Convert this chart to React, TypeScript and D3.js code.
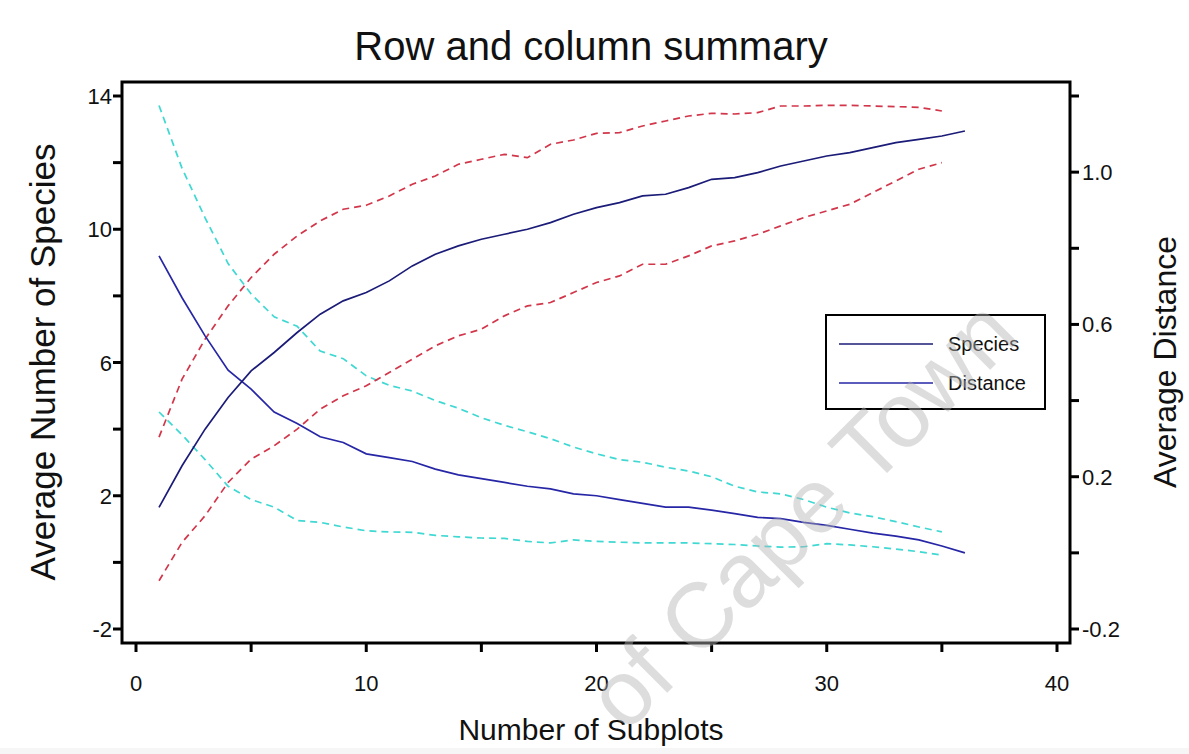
import React from "react";
import * as d3 from "d3";

const subplots = d3.range(1, 37);
const speciesMean = [1.65, 2.9, 4.0, 4.95, 5.75, 6.3, 6.9, 7.45, 7.85, 8.1, 8.45, 8.9, 9.25, 9.5, 9.7, 9.85, 10.0, 10.2, 10.45, 10.65, 10.8, 11.0, 11.05, 11.25, 11.5, 11.55, 11.7, 11.9, 12.05, 12.2, 12.3, 12.45, 12.6, 12.7, 12.8, 12.95];
const speciesUpper = [3.76, 5.5, 6.7, 7.7, 8.55, 9.25, 9.8, 10.25, 10.6, 10.72, 11.0, 11.35, 11.6, 11.95, 12.1, 12.25, 12.15, 12.55, 12.68, 12.88, 12.9, 13.1, 13.25, 13.4, 13.48, 13.46, 13.5, 13.7, 13.7, 13.72, 13.72, 13.7, 13.68, 13.66, 13.55];
const speciesLower = [-0.55, 0.6, 1.4, 2.4, 3.1, 3.5, 4.0, 4.6, 5.0, 5.3, 5.7, 6.1, 6.5, 6.8, 7.0, 7.4, 7.7, 7.8, 8.1, 8.4, 8.6, 8.95, 8.95, 9.2, 9.5, 9.65, 9.85, 10.1, 10.35, 10.55, 10.75, 11.1, 11.45, 11.8, 12.0];
const distanceMean = [0.78, 0.67, 0.57, 0.48, 0.43, 0.37, 0.34, 0.305, 0.29, 0.26, 0.25, 0.24, 0.22, 0.205, 0.195, 0.185, 0.175, 0.168, 0.155, 0.15, 0.14, 0.13, 0.12, 0.12, 0.112, 0.103, 0.093, 0.09, 0.08, 0.072, 0.062, 0.052, 0.044, 0.034, 0.018, 0.0];
const distanceUpper = [1.175, 1.01, 0.88, 0.76, 0.68, 0.62, 0.595, 0.53, 0.51, 0.465, 0.44, 0.425, 0.4, 0.38, 0.355, 0.335, 0.318, 0.3, 0.278, 0.26, 0.245, 0.238, 0.225, 0.215, 0.2, 0.175, 0.16, 0.155, 0.14, 0.12, 0.105, 0.095, 0.082, 0.068, 0.055];
const distanceLower = [0.37, 0.31, 0.245, 0.175, 0.14, 0.12, 0.085, 0.08, 0.068, 0.058, 0.055, 0.054, 0.046, 0.042, 0.039, 0.038, 0.03, 0.026, 0.034, 0.03, 0.028, 0.026, 0.026, 0.026, 0.024, 0.022, 0.018, 0.015, 0.016, 0.024, 0.021, 0.016, 0.01, 0.003, -0.006];

const xTicks = [0, 5, 10, 15, 20, 25, 30, 35, 40];
const xLabels = [0, 10, 20, 30, 40];
const yLeftTicks = [-2, 0, 2, 4, 6, 8, 10, 12, 14];
const yLeftLabels = [-2, 2, 6, 10, 14];
const yRightTicks = [-0.2, 0, 0.2, 0.4, 0.6, 0.8, 1.0, 1.2];
const yRightLabels = [-0.2, 0.2, 0.6, 1.0];

const title = "Row and column summary";
const xTitle = "Number of Subplots";
const yLeftTitle = "Average Number of Species";
const yRightTitle = "Average Distance";
const legendNames = ["Species", "Distance"];
const watermark = "of Cape Town";

const FONT = "'Liberation Sans', Arial, Helvetica, sans-serif";

export default function App() {
  const W = 1189, H = 754;
  const frame = { l: 122, r: 1070, t: 82, b: 643 };
  const x = d3.scaleLinear().domain([0, 40]).range([136, 1057]);
  const yL = d3.scaleLinear().domain([-2, 14]).range([629, 96]);
  const yR = d3.scaleLinear().domain([-0.2, 1.2]).range([629, 96]);

  const lineL = (vals: number[]) =>
    d3.line<number>().x((_, i) => x(subplots[i])).y((v) => yL(v))(vals) || "";
  const lineR = (vals: number[]) =>
    d3.line<number>().x((_, i) => x(subplots[i])).y((v) => yR(v))(vals) || "";

  const navy = "#1b1b78";
  const blue = "#2626a6";
  const red = "#d2364a";
  const cyan = "#3fd8d2";

  const fmtR = (v: number) => (Math.abs(v) < 1e-9 ? "0.0" : v.toFixed(1));

  return (
    <svg width={W} height={H} style={{ position: "absolute", left: 0, top: 0, background: "#fff" }} fontFamily={FONT}>
      <rect x={0} y={0} width={W} height={H} fill="#fff" />
      <rect x={0} y={748} width={W} height={6} fill="#f6f6f6" />

      {/* title */}
      <text x={591} y={60} textAnchor="middle" fontSize={40} fill="#111">{title}</text>

      {/* data lines */}
      <path d={lineR(distanceUpper)} fill="none" stroke={cyan} strokeWidth={1.7} strokeDasharray="7,5" />
      <path d={lineR(distanceLower)} fill="none" stroke={cyan} strokeWidth={1.7} strokeDasharray="7,5" />
      <path d={lineL(speciesUpper)} fill="none" stroke={red} strokeWidth={1.7} strokeDasharray="7,5" />
      <path d={lineL(speciesLower)} fill="none" stroke={red} strokeWidth={1.7} strokeDasharray="7,5" />
      <path d={lineR(distanceMean)} fill="none" stroke={blue} strokeWidth={1.7} />
      <path d={lineL(speciesMean)} fill="none" stroke={navy} strokeWidth={1.7} />

      {/* frame */}
      <rect x={frame.l} y={frame.t} width={frame.r - frame.l} height={frame.b - frame.t} fill="none" stroke="#000" strokeWidth={3} />

      {/* bottom axis */}
      {xTicks.map((t) => (
        <line key={"xt" + t} x1={x(t)} x2={x(t)} y1={frame.b} y2={frame.b + 9} stroke="#000" strokeWidth={3} />
      ))}
      {xLabels.map((t) => (
        <text key={"xl" + t} x={x(t)} y={691} textAnchor="middle" fontSize={22} fill="#111">{t}</text>
      ))}
      <text x={591} y={740} textAnchor="middle" fontSize={30} fill="#111">{xTitle}</text>

      {/* left axis */}
      {yLeftTicks.map((t) => (
        <line key={"yl" + t} x1={frame.l - 9} x2={frame.l} y1={yL(t)} y2={yL(t)} stroke="#000" strokeWidth={3} />
      ))}
      {yLeftLabels.map((t) => (
        <text key={"yll" + t} x={112} y={yL(t) + 8} textAnchor="end" fontSize={22} fill="#111">{t}</text>
      ))}
      <text transform={`translate(55,362) rotate(-90)`} textAnchor="middle" fontSize={35} fill="#111">{yLeftTitle}</text>

      {/* right axis */}
      {yRightTicks.map((t) => (
        <line key={"yr" + t} x1={frame.r} x2={frame.r + 9} y1={yR(t)} y2={yR(t)} stroke="#000" strokeWidth={3} />
      ))}
      {yRightLabels.map((t) => (
        <text key={"yrl" + t} x={1082} y={yR(t) + 8} textAnchor="start" fontSize={22} fill="#111">{fmtR(t)}</text>
      ))}
      <text transform={`translate(1176,362) rotate(-90)`} textAnchor="middle" fontSize={32} fill="#111">{yRightTitle}</text>

      {/* legend */}
      <rect x={826} y={315} width={219} height={94} fill="#fff" stroke="#000" strokeWidth={2} />
      <line x1={839} x2={933} y1={344} y2={344} stroke={navy} strokeWidth={1.7} />
      <line x1={839} x2={933} y1={383} y2={383} stroke={blue} strokeWidth={1.7} />
      <text x={948} y={351} fontSize={20} fill="#111">{legendNames[0]}</text>
      <text x={948} y={390} fontSize={20} fill="#111">{legendNames[1]}</text>

      {/* watermark, drawn on top and translucent as in the source */}
      <text transform={`translate(1022,338) rotate(-45)`} textAnchor="end" fontSize={92} fill="#b4b4b4" fillOpacity={0.45}>{watermark}</text>
    </svg>
  );
}
